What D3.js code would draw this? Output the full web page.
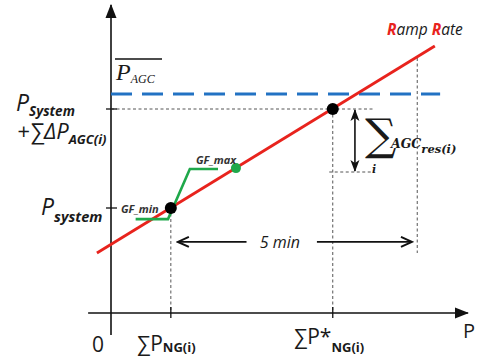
<!DOCTYPE html>
<html lang="en">
<head>
    <meta charset="UTF-8">
    <title>Ramp Rate AGC</title>
    <style>
        body, html { margin: 0; padding: 0; background: #fff; overflow: hidden; }
        svg { display: block; }
        .lbl { font-family: "Open Sans", sans-serif; font-style: italic; fill: #1a1a1a; }
        .serif { font-family: "DejaVu Serif", "Liberation Serif", serif; font-style: italic; font-weight: bold; fill: #1a1a1a; }
        .tnr { font-family: "Liberation Serif", "DejaVu Serif", serif; font-style: italic; fill: #1a1a1a; }
        .sig { font-family: "DejaVu Serif", serif; fill: #1a1a1a; }
        .up { font-family: "Open Sans", sans-serif; fill: #1a1a1a; }
    </style>
</head>
<body>
    <svg id="chart" width="480" height="358"></svg>

    <script src="https://cdnjs.cloudflare.com/ajax/libs/d3/7.8.5/d3.min.js"></script>
    <script>
        // chart values (abstract units, both axes 0..100)
        const xTicks = [17, 63];              // ΣP_NG(i), ΣP*_NG(i)
        const yTicks = [35, 68];              // P_system, P_system + ΣΔP_AGC(i)
        const rampRate = [[-4, 20], [92, 89]];
        const gfCurve = [[7, 31.3], [16.2, 31.3], [22.4, 48], [30.4, 48]];
        const gfMaxPoint = [35.5, 48.3];
        const operatingPoints = [[17, 35], [63, 68]];
        const pAGC = 73;
        const fiveMinX = [19, 85.5];
        const fiveMinY = 23.7;
        const fiveMinEnd = 87;
        const agcResRange = [47, 68];
        const agcResX = 69.3;

        const svg = d3.select("#chart");
        const x = d3.scaleLinear().domain([0, 100]).range([111, 463]);
        const y = d3.scaleLinear().domain([0, 100]).range([313, 13]);
        const line = d3.line().x(d => x(d[0])).y(d => y(d[1]));

        const defs = svg.append("defs");
        defs.append("marker").attr("id", "axisArrow")
            .attr("markerUnits", "userSpaceOnUse")
            .attr("viewBox", "0 -6 14 12").attr("refX", 13).attr("refY", 0)
            .attr("markerWidth", 14).attr("markerHeight", 12).attr("orient", "auto")
            .append("path").attr("d", "M0,-5.5L14,0L0,5.5Z").attr("fill", "#111");
        defs.append("marker").attr("id", "openArrow")
            .attr("markerUnits", "userSpaceOnUse")
            .attr("viewBox", "-1 -6 14 12").attr("refX", 11).attr("refY", 0)
            .attr("markerWidth", 14).attr("markerHeight", 12).attr("orient", "auto-start-reverse")
            .append("path").attr("d", "M0,-5L11,0L0,5").attr("fill", "none")
            .attr("stroke", "#111").attr("stroke-width", 2);
        defs.append("marker").attr("id", "thinArrow")
            .attr("markerUnits", "userSpaceOnUse")
            .attr("viewBox", "0 -5 12 10").attr("refX", 11).attr("refY", 0)
            .attr("markerWidth", 12).attr("markerHeight", 10).attr("orient", "auto-start-reverse")
            .append("path").attr("d", "M0,-4.5L12,0L0,4.5L3,0Z").attr("fill", "#111");

        // axes
        svg.append("line")
            .attr("x1", x(-6.5)).attr("x2", x(101.4)).attr("y1", y(0)).attr("y2", y(0))
            .attr("stroke", "#111").attr("stroke-width", 1.6).attr("marker-end", "url(#axisArrow)");
        svg.append("line")
            .attr("x1", x(0)).attr("x2", x(0)).attr("y1", y(-7.3)).attr("y2", y(102.7))
            .attr("stroke", "#111").attr("stroke-width", 1.6).attr("marker-end", "url(#axisArrow)");

        // guide lines
        const dotted = { stroke: "#555", "stroke-width": 1, "stroke-dasharray": "3,2.5" };
        function guide(x1, y1, x2, y2) {
            const l = svg.append("line")
                .attr("x1", x(x1)).attr("y1", y(y1)).attr("x2", x(x2)).attr("y2", y(y2));
            Object.entries(dotted).forEach(([k, v]) => l.attr(k, v));
        }
        guide(0, yTicks[1], 74.4, yTicks[1]);
        guide(62, agcResRange[0], 74.4, agcResRange[0]);
        guide(xTicks[0], operatingPoints[0][1], xTicks[0], 0);
        guide(xTicks[1], operatingPoints[1][1], xTicks[1], 0);
        guide(fiveMinEnd, 85, fiveMinEnd, 20);

        // ticks crossing the axes
        xTicks.forEach(t => {
            svg.append("line").attr("x1", x(t)).attr("x2", x(t))
                .attr("y1", y(0) - 6).attr("y2", y(0) + 5)
                .attr("stroke", "#111").attr("stroke-width", 1.3);
        });
        yTicks.forEach(t => {
            svg.append("line").attr("x1", x(0) - 5).attr("x2", x(0) + 6)
                .attr("y1", y(t)).attr("y2", y(t))
                .attr("stroke", "#111").attr("stroke-width", 1.3);
        });

        // P_AGC limit
        svg.append("line")
            .attr("x1", x(0)).attr("x2", x(93.5)).attr("y1", y(pAGC)).attr("y2", y(pAGC))
            .attr("stroke", "#2272c3").attr("stroke-width", 3.2).attr("stroke-dasharray", "21,10");

        // ramp rate line
        svg.append("path").attr("d", line(rampRate))
            .attr("fill", "none").attr("stroke", "#e8231d").attr("stroke-width", 2.8);

        // governor free curve
        svg.append("path").attr("d", line(gfCurve))
            .attr("fill", "none").attr("stroke", "#1fa84a").attr("stroke-width", 2.6);
        svg.append("circle").attr("cx", x(gfMaxPoint[0])).attr("cy", y(gfMaxPoint[1]))
            .attr("r", 5).attr("fill", "#1fa84a");

        svg.selectAll(".op").data(operatingPoints).enter().append("circle")
            .attr("class", "op")
            .attr("cx", d => x(d[0])).attr("cy", d => y(d[1])).attr("r", 6).attr("fill", "#000");

        // 5 min arrow
        svg.append("line").attr("x1", x(fiveMinX[0])).attr("x2", x(38.5))
            .attr("y1", y(fiveMinY)).attr("y2", y(fiveMinY))
            .attr("stroke", "#111").attr("stroke-width", 1.8).attr("marker-start", "url(#openArrow)");
        svg.append("line").attr("x1", x(58.5)).attr("x2", x(fiveMinX[1]))
            .attr("y1", y(fiveMinY)).attr("y2", y(fiveMinY))
            .attr("stroke", "#111").attr("stroke-width", 1.8).attr("marker-end", "url(#openArrow)");
        svg.append("text").attr("class", "lbl").attr("x", x(48)).attr("y", y(fiveMinY) + 6)
            .attr("text-anchor", "middle").attr("font-size", 16).text("5 min");

        // AGC reserve double arrow
        svg.append("line").attr("x1", x(agcResX)).attr("x2", x(agcResX))
            .attr("y1", y(agcResRange[1]) + 1).attr("y2", y(agcResRange[0]) - 1)
            .attr("stroke", "#111").attr("stroke-width", 1.6)
            .attr("marker-start", "url(#thinArrow)").attr("marker-end", "url(#thinArrow)");

        // labels
        function sub(xp, yp, main, mainSize, subText, subSize, dy, cls) {
            const t = svg.append("text").attr("class", cls || "lbl").attr("x", xp).attr("y", yp);
            t.append("tspan").attr("font-size", mainSize).text(main);
            t.append("tspan").attr("font-size", subSize).style("font-weight", "bold")
                .attr("dy", dy).text(subText);
            return t;
        }
        sub(16, 111, "P", 23, "System", 13.5, 5);
        sub(17, 139, "+∑ΔP", 22, "AGC(i)", 13, 5);
        sub(41, 215, "P", 23, "system", 14.5, 7);

        svg.append("text").attr("class", "lbl").attr("x", 121).attr("y", 213)
            .attr("font-size", 11).style("font-weight", "bold").style("fill", "#333").text("GF_min");
        svg.append("text").attr("class", "lbl").attr("x", 196).attr("y", 164)
            .attr("font-size", 11).style("font-weight", "bold").style("fill", "#333").text("GF_max");

        svg.append("text").attr("class", "up").attr("x", 92).attr("y", 352)
            .attr("font-size", 21).text("0");
        sub(137, 351, "∑P", 21, "NG(i)", 13, 1, "up");
        sub(294, 344, "∑P*", 21, "NG(i)", 13, 8, "up");
        svg.append("text").attr("class", "up").attr("x", 463).attr("y", 338)
            .attr("font-size", 20).text("P");

        const ramp = svg.append("text").attr("class", "lbl").attr("x", 387).attr("y", 35)
            .attr("font-size", 15.5);
        ramp.append("tspan").style("fill", "#e8231d").style("font-weight", "bold").text("R");
        ramp.append("tspan").text("amp ");
        ramp.append("tspan").style("fill", "#e8231d").style("font-weight", "bold").text("R");
        ramp.append("tspan").text("ate");

        // P_AGC with overline
        svg.append("line").attr("x1", 115).attr("x2", 162).attr("y1", 59).attr("y2", 59)
            .attr("stroke", "#111").attr("stroke-width", 1.5);
        const pa = svg.append("text").attr("class", "tnr").attr("x", 116).attr("y", 80);
        pa.append("tspan").attr("font-size", 24).text("P");
        pa.append("tspan").attr("font-size", 12).attr("dy", 3).text("AGC");

        // Σ AGC_res(i)
        svg.append("text").attr("class", "sig").attr("x", 365).attr("y", 150)
            .attr("font-size", 44).text("∑");
        svg.append("text").attr("class", "serif").attr("x", 372).attr("y", 173)
            .attr("font-size", 11).text("i");
        sub(391, 148, "AGC", 12.5, "res(i)", 11.5, 5, "serif");
    </script>
</body>
</html>
